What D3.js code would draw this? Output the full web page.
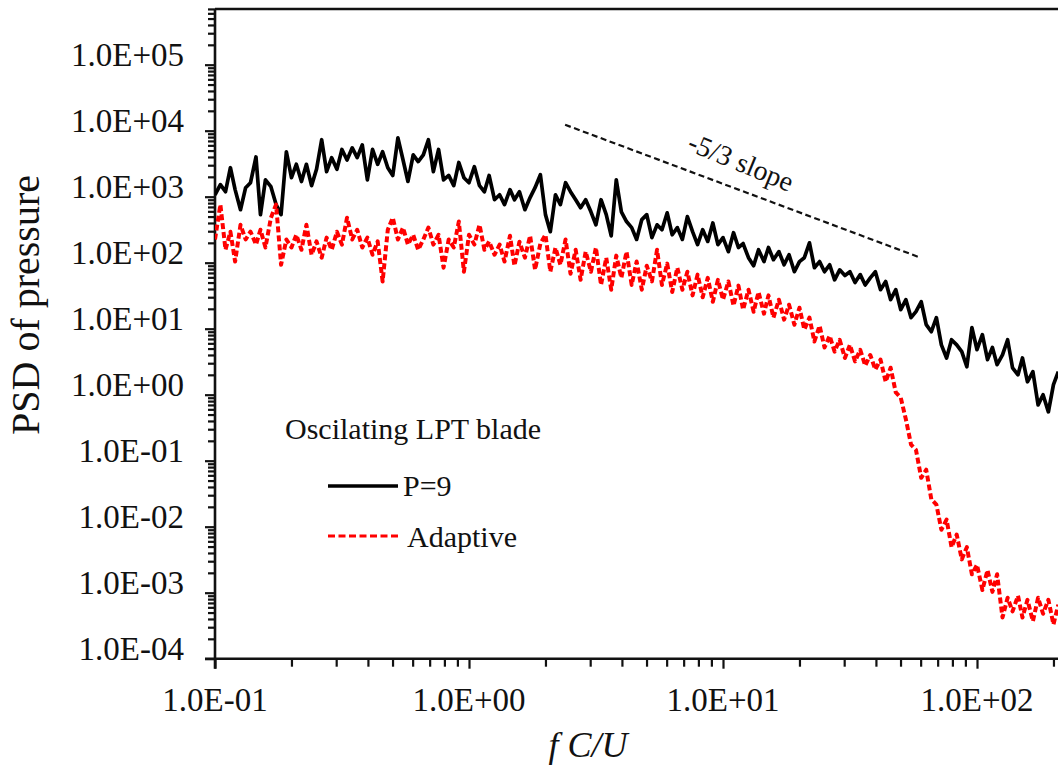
<!DOCTYPE html>
<html>
<head>
<meta charset="utf-8">
<script src="https://cdn.jsdelivr.net/npm/d3@7"></script>
<style>
  html, body { margin: 0; padding: 0; background: #fff; }
  svg { display: block; }
  text { font-family: "Liberation Serif", "Times New Roman", serif; fill: #111; }
</style>
</head>
<body>
<svg id="chart" width="1058" height="776"></svg>
<script>
// ---------------- data ----------------
const freq = [
  0.1,0.105,0.11,0.115,0.12,0.126,0.132,0.138,0.145,0.151,0.158,0.166,0.174,0.182,0.191,0.2,0.209,0.219,0.229,0.24,
  0.251,0.263,0.275,0.288,0.302,0.316,0.331,0.347,0.363,0.38,0.398,0.417,0.437,0.457,0.479,0.501,0.525,0.55,0.575,0.603,
  0.631,0.661,0.692,0.724,0.759,0.794,0.832,0.871,0.912,0.955,
  1,1.05,1.1,1.15,1.2,1.26,1.32,1.38,1.45,1.51,1.58,1.66,1.74,1.82,1.91,2,2.09,2.19,2.29,2.4,
  2.51,2.63,2.75,2.88,3.02,3.16,3.31,3.47,3.63,3.8,3.98,4.17,4.37,4.57,4.79,5.01,5.25,5.5,5.75,6.03,
  6.31,6.61,6.92,7.24,7.59,7.94,8.32,8.71,9.12,9.55,
  10,10.5,11,11.5,12,12.6,13.2,13.8,14.5,15.1,15.8,16.6,17.4,18.2,19.1,20,20.9,21.9,22.9,24,
  25.1,26.3,27.5,28.8,30.2,31.6,33.1,34.7,36.3,38,39.8,41.7,43.7,45.7,47.9,50.1,52.5,55,57.5,60.3,
  63.1,66.1,69.2,72.4,75.9,79.4,83.2,87.1,91.2,95.5,
  100,105,110,115,120,126,132,138,145,151,158,166,174,182,191,200,209
];

const psdP9 = [
  1070,1520,1190,2750,1280,635,1370,1630,4000,535,1800,1420,760,535,4800,1940,3100,1700,3100,1470,
  2600,7300,2400,3900,2600,5200,3600,5500,3900,6100,1800,5200,3100,4800,2750,2100,7800,3600,1700,4300,
  3400,4300,7300,2400,5200,1800,2100,1470,3300,1940,
  1630,2850,1470,1190,2100,900,1070,760,1280,900,1190,635,970,1370,2150,535,295,1070,760,1630,
  1190,900,680,900,590,375,900,535,255,1800,590,420,340,225,450,535,240,375,316,570,
  265,340,225,500,295,188,316,210,400,188,
  240,147,285,170,195,119,90,157,104,170,111,147,93,132,73,104,119,200,84,104,
  73,93,55,78,64,73,50,66,46,59,73,39,52,27.5,39,19.4,27.5,14.7,18.1,25.6,
  11.5,9.0,14.7,5.7,3.6,6.8,5.7,4.5,2.65,10.4,
  4.8,8.1,3.4,5.2,2.85,4.0,6.8,2.56,2.0,3.6,1.57,2.23,0.70,1.0,0.55,1.42,2.23
];

const psdAdaptive = [
  225,760,157,295,104,375,225,295,188,316,170,480,760,93,225,170,265,157,375,132,
  210,119,240,157,295,188,480,225,316,170,240,132,210,52,316,480,225,340,188,265,
  157,225,340,188,265,84,225,170,420,73,
  265,188,375,157,210,132,188,104,256,90,208,119,256,78,195,265,73,169,93,225,
  68,157,55,147,73,169,46,119,39,128,59,147,46,104,39,90,52,157,46,97,
  36,84,39,73,32,66,30,59,25.6,55,
  27.5,52,22.3,45,19.4,39,18.1,36,16.9,32,14.7,27.5,13.7,23.1,11.5,20.8,9.7,14.7,6.4,11.1,
  5.2,7.8,4.5,6.8,3.6,5.7,3.2,4.8,2.75,4.0,2.4,3.4,1.57,2.56,1.08,0.90,0.42,0.175,0.146,0.055,
  0.073,0.026,0.0216,0.009,0.0128,0.0049,0.0076,0.0032,0.0049,0.0019,
  0.00265,0.0011,0.0022,0.00103,0.0019,0.00042,0.00084,0.00052,0.0009,0.00042,0.00078,0.00037,0.00084,0.00048,0.00078,0.00033,0.00066
];

const slopeX = [2.39, 58.6];
const slopeY = [12300, 123];

const xTicks = [0.1, 1, 10, 100];
const xTickLabels = ["1.0E-01", "1.0E+00", "1.0E+01", "1.0E+02"];
const yTicks = [1e-4, 1e-3, 1e-2, 1e-1, 1, 10, 100, 1e3, 1e4, 1e5];
const yTickLabels = ["1.0E-04", "1.0E-03", "1.0E-02", "1.0E-01", "1.0E+00",
                     "1.0E+01", "1.0E+02", "1.0E+03", "1.0E+04", "1.0E+05"];

const seriesNames = ["P=9", "Adaptive"];
const legendTitle = "Oscilating LPT blade";
const slopeLabel = "-5/3 slope";
const xTitle = "f C/U";
const yTitle = "PSD of pressure";

// ---------------- layout ----------------
(function () {
const W = 1058, H = 776;
const pLeft = 215, pBottom = 658.7, pTop = 9;
const decadeX = 254, decadeY = 66;

const svg = d3.select("#chart");

const x = d3.scaleLog().domain([0.1, 1000]).range([pLeft, pLeft + 4 * decadeX]);
const y = d3.scaleLog().domain([1e-4, 1e6]).range([pBottom, pBottom - 10 * decadeY]);

svg.append("defs").append("clipPath").attr("id", "plotclip")
  .append("rect").attr("x", pLeft).attr("y", pTop).attr("width", W - pLeft).attr("height", pBottom - pTop);

const xMinor = [];
for (let d = -1; d <= 2; d++) for (let k = 2; k <= 9; k++) {
  const v = k * Math.pow(10, d);
  if (x(v) <= W) xMinor.push(v);
}
const yMinor = [];
for (let d = -4; d <= 5; d++) for (let k = 2; k <= 9; k++) {
  const v = k * Math.pow(10, d);
  if (y(v) >= pTop - 1) yMinor.push(v);
}

const gx = svg.append("g").attr("transform", `translate(0,${pBottom})`);
gx.append("g").call(d3.axisBottom(x).tickValues(xMinor).tickSize(8).tickSizeOuter(0).tickFormat(""));
gx.append("g").call(d3.axisBottom(x).tickValues(xTicks).tickSize(10).tickSizeOuter(0).tickFormat(""));
gx.selectAll(".domain").remove();
gx.selectAll("line").attr("stroke", "#111").attr("stroke-width", 2.2);

const gy = svg.append("g").attr("transform", `translate(${pLeft},0)`);
gy.append("g").call(d3.axisLeft(y).tickValues(yMinor).tickSize(7).tickSizeOuter(0).tickFormat(""));
gy.append("g").call(d3.axisLeft(y).tickValues(yTicks).tickSize(10).tickSizeOuter(0).tickFormat(""));
gy.selectAll(".domain").remove();
gy.selectAll("line").attr("stroke", "#111").attr("stroke-width", 2.2);

svg.append("line").attr("x1", pLeft).attr("x2", pLeft).attr("y1", pTop).attr("y2", pBottom + 10)
  .attr("stroke", "#111").attr("stroke-width", 2.6);
svg.append("line").attr("x1", pLeft - 10).attr("x2", W).attr("y1", pBottom).attr("y2", pBottom)
  .attr("stroke", "#111").attr("stroke-width", 2.6);
svg.append("line").attr("x1", pLeft).attr("x2", W).attr("y1", pTop).attr("y2", pTop)
  .attr("stroke", "#111").attr("stroke-width", 2.6);

svg.append("g").selectAll("text").data(xTicks).join("text")
  .attr("x", d => x(d)).attr("y", 711)
  .attr("text-anchor", "middle").attr("font-size", 33)
  .text((d, i) => xTickLabels[i]);

svg.append("g").selectAll("text").data(yTicks).join("text")
  .attr("x", 184).attr("y", d => y(d) + 1)
  .attr("text-anchor", "end").attr("font-size", 33)
  .text((d, i) => yTickLabels[i]);

svg.append("text").attr("transform", "translate(39,305) rotate(-90)")
  .attr("text-anchor", "middle").attr("font-size", 40).text(yTitle);
svg.append("text").attr("x", 588).attr("y", 757)
  .attr("text-anchor", "middle").attr("font-size", 36).attr("font-style", "italic").text(xTitle);

const line = d3.line().x(d => x(d[0])).y(d => y(d[1]));
const plot = svg.append("g").attr("clip-path", "url(#plotclip)");

plot.append("path")
  .datum(freq.map((f, i) => [f, psdP9[i]]))
  .attr("d", line).attr("fill", "none")
  .attr("stroke", "#000").attr("stroke-width", 3.7).attr("stroke-linejoin", "round");

plot.append("path")
  .datum(freq.map((f, i) => [f, psdAdaptive[i]]))
  .attr("d", line).attr("fill", "none")
  .attr("stroke", "#f00").attr("stroke-width", 4).attr("stroke-dasharray", "6,3")
  .attr("stroke-linejoin", "round");

svg.append("line")
  .attr("x1", x(slopeX[0])).attr("y1", y(slopeY[0]))
  .attr("x2", x(slopeX[1])).attr("y2", y(slopeY[1]))
  .attr("stroke", "#111").attr("stroke-width", 2.2).attr("stroke-dasharray", "6,3.5");
svg.append("text")
  .attr("transform", "translate(741,162) rotate(22.5)")
  .attr("text-anchor", "middle").attr("dominant-baseline", "central")
  .attr("font-size", 28).text(slopeLabel);

svg.append("text").attr("x", 285).attr("y", 439).attr("font-size", 30).text(legendTitle);
svg.append("line").attr("x1", 328).attr("x2", 398).attr("y1", 486).attr("y2", 486)
  .attr("stroke", "#000").attr("stroke-width", 3.4);
svg.append("text").attr("x", 403).attr("y", 496).attr("font-size", 30).text(seriesNames[0]);
svg.append("line").attr("x1", 328).attr("x2", 400).attr("y1", 536).attr("y2", 536)
  .attr("stroke", "#f00").attr("stroke-width", 3.2).attr("stroke-dasharray", "7,3.5");
svg.append("text").attr("x", 407).attr("y", 547).attr("font-size", 30).text(seriesNames[1]);
})();
</script>
</body>
</html>
